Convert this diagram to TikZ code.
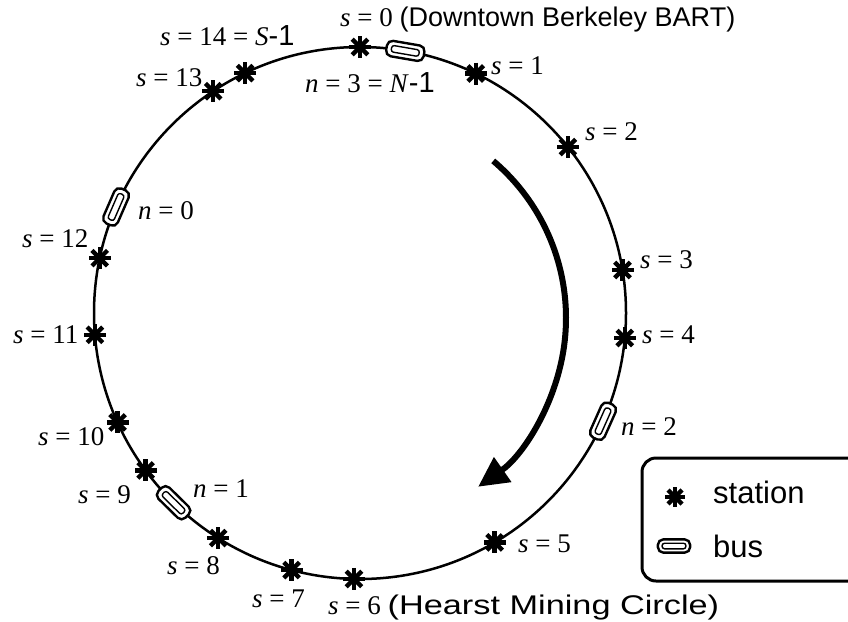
\documentclass[tikz,border=0pt]{standalone}
\usepackage{graphicx}
\usepackage{fontspec}
\setmainfont{Liberation Serif}
\setsansfont{Liberation Sans}
\usetikzlibrary{arrows.meta,calc}
\newcommand{\iv}[1]{\textit{#1}}
\tikzset{
  stationpic/.pic={\foreach \a in {0,45,90,135} \draw[line width=4.4pt] (\a:11pt) -- (\a+180:11pt);},
  buspic/.pic={
    \draw[fill=white, line width=2.4pt, rounded corners=5.5pt] (-19pt,-7.8pt) rectangle (19pt,7.8pt);
    \draw[line width=1.4pt, rounded corners=2.5pt] (-14pt,-3.3pt) rectangle (14pt,3.3pt);},
  lbl/.style={anchor=base west, inner sep=0pt, font=\fontsize{27}{31}\selectfont},
  leg/.style={anchor=base west, inner sep=0pt, font=\sffamily\fontsize{31}{36}\selectfont},
}
\newcommand{\sfs}[1]{{\sffamily\fontsize{27}{31}\selectfont #1}}
\newcommand{\mone}{{\sffamily\fontsize{29}{31}\selectfont -1}}
\begin{document}
\begin{tikzpicture}[x=1pt,y=-1pt]
\useasboundingbox (0,0) rectangle (848,621);
\coordinate (C) at (360,313);
\coordinate (A) at (360,318);
% route
\draw[line width=2.5pt] (C) circle[radius=266pt];
% stations
\foreach \n/\ang in {0/90,1/64.2,2/38.6,3/9.3,4/-5.4,5/-59.6,6/-91.3,7/-104.9,8/-122.2,9/-143.7,10/-155.7,11/-175.3,12/168.1,13/123.5,14/115.6}{
  \coordinate (s\n) at ($(C)+(\ang:266pt)$);
  \pic at (s\n) {stationpic};
}
% buses
\foreach \n/\ang in {3/80.2,0/156.5,2/-24,1/-134.5}{
  \coordinate (b\n) at ($(C)+(\ang:266pt)$);
  \pic[rotate=\ang+90] at (b\n) {buspic};
}
% direction arrow
\coordinate (arrS) at ($(A)+(49.7:206pt)$);
\draw[line width=6pt, -{Triangle[length=30pt,width=29pt]}] (arrS) arc[start angle=49.7, end angle=-55, radius=206pt] coordinate (arrE);
% labels
\node[lbl] (l0) at (340,26) {\iv{s} = 0 \sfs{(Downtown Berkeley BART)}};
\node[lbl] (l1) at (491,74) {\iv{s} = 1};
\node[lbl] (l2) at (585,140) {\iv{s} = 2};
\node[lbl] (l3) at (640,268) {\iv{s} = 3};
\node[lbl] (l4) at (642,343) {\iv{s} = 4};
\node[lbl] (l5) at (518,552) {\iv{s} = 5};
\node[lbl] (l6) at (328,614) {\iv{s} = 6 \sfs{\scalebox{1.27}[1]{(Hearst Mining Circle)}}};
\node[lbl] (l7) at (252,607) {\iv{s} = 7};
\node[lbl] (l8) at (167,574) {\iv{s} = 8};
\node[lbl] (l9) at (78,503) {\iv{s} = 9};
\node[lbl] (l10) at (38,445) {\iv{s} = 10};
\node[lbl] (l11) at (13,343) {\iv{s} = 11};
\node[lbl] (l12) at (22,247) {\iv{s} = 12};
\node[lbl] (l13) at (136,86) {\iv{s} = 13};
\node[lbl] (l14) at (160,45) {\iv{s} = 14 = \iv{S}\mone};
\node[lbl] (ln3) at (305,92) {\iv{n} = 3 = \iv{N}\mone};
\node[lbl] (ln0) at (138,219) {\iv{n} = 0};
\node[lbl] (ln1) at (193,497) {\iv{n} = 1};
\node[lbl] (ln2) at (621,435) {\iv{n} = 2};
% legend
\draw[line width=3pt, rounded corners=14pt] (642,458) rectangle (880,581);
\coordinate (legS) at (675,497);
\pic[scale=0.9] at (legS) {stationpic};
\node[leg] (legst) at (713,503) {station};
\coordinate (legB) at (674,546);
\pic[scale=0.85] at (legB) {buspic};
\node[leg] (legbus) at (713,557) {bus};
\end{tikzpicture}
\end{document}
